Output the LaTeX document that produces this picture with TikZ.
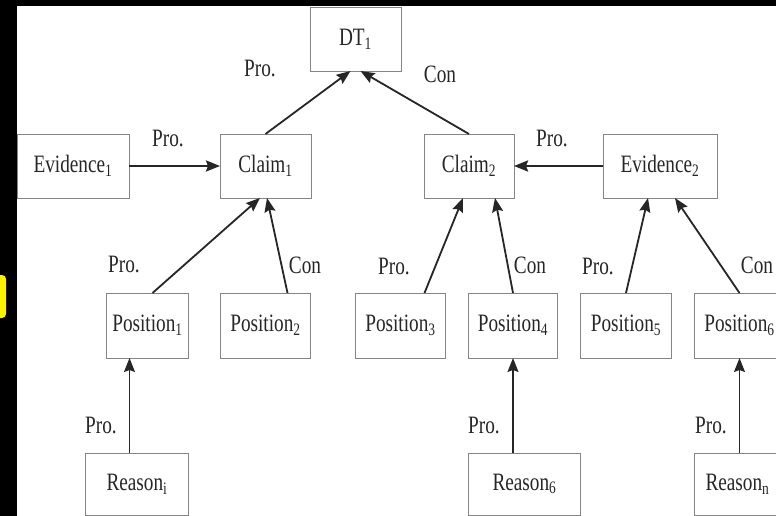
\documentclass[tikz,border=0pt]{standalone}
\usepackage{fontspec}
\setmainfont{Liberation Serif}[FakeStretch=0.77]
\usepackage{xcolor}
\usetikzlibrary{arrows.meta, positioning}

\definecolor{boxline}{HTML}{858585}
\definecolor{inkgray}{HTML}{262626}
\newcommand{\sbs}[1]{\textsubscript{#1}}

\begin{document}
\begin{tikzpicture}[x=1pt, y=-1pt,
    box/.style={rectangle, draw=boxline, line width=0.9pt, fill=white, minimum height=64pt, inner sep=0pt, outer sep=0pt, text=inkgray, font=\fontsize{25}{28}\selectfont},
    lbl/.style={text=inkgray, inner sep=0pt, font=\fontsize{25}{28}\selectfont},
    arrow/.style={draw=inkgray, line width=1.8pt, -{Stealth[length=14pt,width=11pt,inset=2pt]}}
  ]
    \useasboundingbox (0,0) rectangle (776,516);
    \clip (0,0) rectangle (776,516);
    \fill[black] (0,0) rectangle (776,516);
    \fill[white] (17,6) rectangle (776,516);
    \fill[yellow, rounded corners=4pt] (-12,275) rectangle (6,318);

    \node (dt) [box, minimum width=91pt] at (355.5,39) {DT\sbs{1}};
    \node (claimA) [box, minimum width=91pt] at (265.5,166) {Claim\sbs{1}};
    \node (claimB) [box, minimum width=90pt, right=113pt of claimA] {Claim\sbs{2}};
    \node (evidA) [box, minimum width=112pt, left=91pt of claimA] {Evidence\sbs{1}};
    \node (evidB) [box, minimum width=114pt, right=89pt of claimB] {Evidence\sbs{2}};

    \node (posB) [box, minimum width=90pt, minimum height=65pt, below=95pt of claimA] {Position\sbs{2}};
    \node (posA) [box, minimum width=82pt, minimum height=65pt, left=32pt of posB] {Position\sbs{1}};
    \node (posC) [box, minimum width=90pt, minimum height=65pt, right=45pt of posB] {Position\sbs{3}};
    \node (posD) [box, minimum width=89pt, minimum height=65pt, right=23pt of posC] {Position\sbs{4}};
    \node (posE) [box, minimum width=91pt, minimum height=65pt, right=23pt of posD] {Position\sbs{5}};
    \node (posF) [box, minimum width=90pt, minimum height=65pt, right=23pt of posE] {Position\sbs{6}};

    \node (reasonA) [box, minimum width=103pt, minimum height=62pt, below=95pt of posA.south east, anchor=north east] {Reason\sbs{i}};
    \node (reasonB) [box, minimum width=112pt, minimum height=62pt, below=95pt of posD.south west, anchor=north west] {Reason\sbs{6}};
    \node (reasonC) [box, minimum width=86pt, minimum height=62pt, below=95pt of posF.south west, anchor=north west] {Reason\sbs{n}};

    % top level
    \draw [arrow, line width=2.4pt] (evidA) -- (claimA);
    \draw [arrow, line width=2.4pt] (evidB) -- (claimB);
    \draw [arrow] (claimA.north) -- ([xshift=-5pt]dt.south);
    \draw [arrow] (claimB.north) -- ([xshift=5pt]dt.south);

    % positions
    \draw [arrow] ([xshift=5pt]posA.north) -- ([xshift=-5.5pt]claimA.south);
    \draw [arrow] ([xshift=22pt]posB.north) -- ([xshift=1.5pt]claimA.south);
    \draw [arrow] ([xshift=24pt]posC.north) -- ([xshift=-6pt]claimB.south);
    \draw [arrow] (posD.north) -- ([xshift=26pt]claimB.south);
    \draw [arrow] (posE.north) -- ([xshift=-12pt]evidB.south);
    \draw [arrow] (posF.north) -- ([xshift=15pt]evidB.south);

    % reasons
    \draw [arrow, line width=1.5pt] ([xshift=-7.5pt]reasonA.north) -- ([xshift=-18pt]posA.south);
    \draw [arrow, line width=1.5pt] (posD.south |- reasonB.north) -- (posD.south);
    \draw [arrow, line width=1.2pt] (posF.south |- reasonC.north) -- (posF.south);

    \node [lbl] (proEA) at (168,138) {Pro.};
    \node [lbl] (proCA) at (260,68) {Pro.};
    \node [lbl] (conCB) at (440,74) {Con};
    \node [lbl] (proEB) at (552,138) {Pro.};
    \node [lbl] (proPA) at (124,264) {Pro.};
    \node [lbl] (conPB) at (305,265) {Con};
    \node [lbl] (proPC) at (394,266) {Pro.};
    \node [lbl] (conPD) at (530,265) {Con};
    \node [lbl] (proPE) at (598,266) {Pro.};
    \node [lbl] (conPF) at (757,265) {Con};
    \node [lbl] (proRA) at (101,425) {Pro.};
    \node [lbl] (proRB) at (484,425) {Pro.};
    \node [lbl] (proRC) at (711,425) {Pro.};
  \end{tikzpicture}
\end{document}
